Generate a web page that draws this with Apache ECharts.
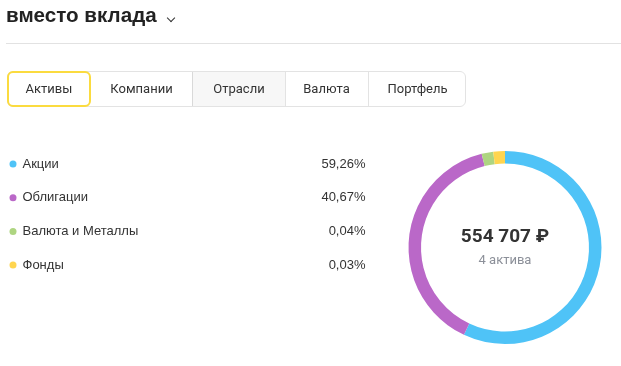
<!DOCTYPE html>
<html><head><meta charset="utf-8">
<script src="https://cdn.jsdelivr.net/npm/echarts@6/dist/echarts.min.js"></script>
<style>
html,body{margin:0;padding:0;background:#fff;width:621px;height:366px;overflow:hidden;}
#chart{position:absolute;left:0;top:0;width:621px;height:366px;}
#hdr{position:absolute;left:6px;top:3px;font-family:"Liberation Sans",Arial,sans-serif;font-weight:bold;font-size:20.6px;color:#222;z-index:2;}
#chev{position:absolute;left:168px;top:15px;width:5px;height:5px;border-right:1.6px solid #333;border-bottom:1.6px solid #333;transform:rotate(45deg);z-index:2;}
#line{position:absolute;left:6px;top:43px;width:615px;height:1px;background:#e2e2e2;z-index:2;}
#tabs{position:absolute;left:7px;top:71px;width:457px;height:34px;border:1px solid #e3e3e3;border-radius:6px;z-index:2;font-family:Roboto,sans-serif;font-size:13px;color:#333;}
.tab{position:absolute;top:0;height:34px;line-height:34px;text-align:center;}
</style></head>
<body>
<div id="chart"></div>
<div id="hdr">вместо вклада</div>
<div id="chev"></div>
<div id="line"></div>
<div id="tabs">
  <div class="tab" style="left:-1px;top:-1px;width:80px;height:32px;line-height:32px;border:2px solid #fbdb3f;border-radius:6px;">Активы</div>
  <div class="tab" style="left:83px;width:101px;">Компании</div>
  <div class="tab" style="left:184px;width:92px;background:#f7f7f7;border-left:1px solid #d9d9d9;border-right:1px solid #e3e3e3;">Отрасли</div>
  <div class="tab" style="left:277px;width:83px;">Валюта</div>
  <div class="tab" style="left:360px;width:97px;border-left:1px solid #e3e3e3;">Портфель</div>
</div>
<script>
const categories = ['Акции', 'Облигации', 'Валюта и Металлы', 'Фонды'];
const shares = [59.26, 40.67, 0.04, 0.03];
const shareLabels = ['59,26%', '40,67%', '0,04%', '0,03%'];
const colors = ['#4fc3f7', '#ba68c8', '#aed581', '#ffd54f'];
const totalText = '554 707 ₽';
const countText = '4 актива';

const chart = echarts.init(document.getElementById('chart'), null, {renderer: 'canvas'});
chart.setOption({
  animation: false,
  color: colors,
  legend: {
    orient: 'vertical',
    left: 4.5,
    top: 152.5,
    icon: 'circle',
    itemWidth: 7,
    itemHeight: 7,
    itemGap: 20.7,
    selectedMode: false,
    data: categories,
    formatter: function (name) {
      const i = categories.indexOf(name);
      return '{n|' + name + '}{v|' + shareLabels[i] + '}';
    },
    textStyle: {
      fontFamily: '"Liberation Sans", Arial, sans-serif',
      fontSize: 13,
      color: '#333',
      rich: {
        n: {width: 283, padding: [0, 0, 0, 1], fontSize: 13, color: '#333', fontFamily: '"Liberation Sans", Arial, sans-serif'},
        v: {width: 60, align: 'right', fontSize: 13, color: '#333', fontFamily: '"Liberation Sans", Arial, sans-serif'}
      }
    }
  },
  graphic: [
    {type: 'text', x: 505, y: 237, style: {text: totalText, align: 'center', verticalAlign: 'middle', font: 'bold 19px Roboto, sans-serif', fill: '#333'}, z: 10},
    {type: 'text', x: 505, y: 261, style: {text: countText, align: 'center', verticalAlign: 'middle', font: '13px Roboto, sans-serif', fill: '#8c9099'}, z: 10}
  ],
  series: [{
    type: 'pie',
    center: [505, 247.5],
    radius: [84, 96.5],
    startAngle: 90,
    clockwise: true,
    minAngle: 7,
    avoidLabelOverlap: false,
    label: {show: false},
    labelLine: {show: false},
    emphasis: {disabled: true},
    itemStyle: {borderWidth: 0},
    data: categories.map((c, i) => ({name: c, value: shares[i]}))
  }]
});
</script>
</body></html>
